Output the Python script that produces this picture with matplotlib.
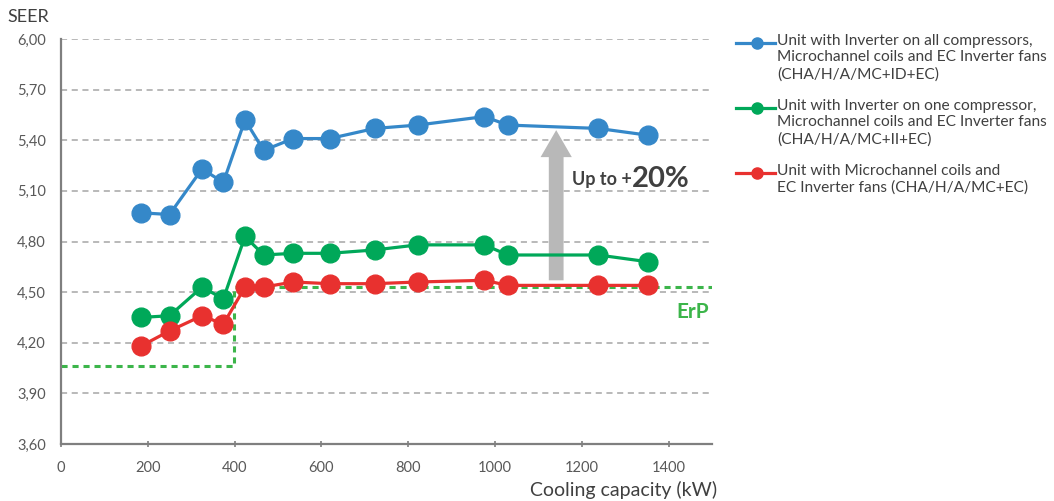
import matplotlib
matplotlib.use("Agg")
import matplotlib.pyplot as plt
from matplotlib.lines import Line2D
from matplotlib.patches import FancyArrow

# values
capacity = [184, 250, 325, 374, 424, 467, 535, 619, 723, 822, 975, 1030, 1238, 1352]
seer_inv_all = [4.97, 4.96, 5.23, 5.15, 5.52, 5.34, 5.41, 5.41, 5.47, 5.49, 5.54, 5.49, 5.47, 5.43]
seer_inv_one = [4.35, 4.36, 4.53, 4.46, 4.83, 4.72, 4.73, 4.73, 4.75, 4.78, 4.78, 4.72, 4.72, 4.68]
seer_mc_ec = [4.18, 4.27, 4.36, 4.31, 4.53, 4.53, 4.56, 4.55, 4.55, 4.56, 4.57, 4.54, 4.54, 4.54]

erp_x = [0, 398, 1500]
erp_y = [4.06, 4.53, 4.53]

y_ticks = [3.60, 3.90, 4.20, 4.50, 4.80, 5.10, 5.40, 5.70, 6.00]
x_ticks = [0, 200, 400, 600, 800, 1000, 1200, 1400]

labels = [
    "Unit with Inverter on all compressors,\nMicrochannel coils and EC Inverter fans\n(CHA/H/A/MC+ID+EC)",
    "Unit with Inverter on one compressor,\nMicrochannel coils and EC Inverter fans\n(CHA/H/A/MC+II+EC)",
    "Unit with Microchannel coils and\nEC Inverter fans (CHA/H/A/MC+EC)",
]
colors = ["#3588c9", "#00a859", "#e8312f"]

plt.rcParams['font.family'] = ['Lato', 'DejaVu Sans']
txt = "#404040"

fig = plt.figure(figsize=(10.54, 5.01), dpi=100)
ax = fig.add_axes([61 / 1054, 1 - 444 / 501, (712 - 61) / 1054, (444 - 39) / 501])

# grid
for yv in y_ticks[1:]:
    ax.axhline(yv, color="#a6a6a6", lw=1.1, ls=(0, (4, 3)), zorder=0)

# ErP limit
ax.plot(erp_x, erp_y, drawstyle="steps-post", color="#3cb54a", lw=2.2,
        ls=(0, (2, 1.6)), zorder=1)

for ys, c in zip([seer_inv_all, seer_inv_one, seer_mc_ec], colors):
    ax.plot(capacity, ys, color=c, lw=2.3, marker="o", markersize=13.5, zorder=3)

# gray arrow
ax.add_patch(FancyArrow(1141, 4.57, 0, 5.46 - 4.57, width=34, head_width=72,
                        head_length=0.16, length_includes_head=True,
                        color="#b8b8b8", lw=0, zorder=2))
t1 = ax.text(1178, 5.17, "Up to +", fontsize=13, fontweight="bold", color=txt,
             ha="left", va="center")
ax.annotate("20%", xy=(1, 0.5), xycoords=t1, xytext=(0, 0), textcoords="offset points",
            fontsize=21, fontweight="bold", color=txt, ha="left", va="center")

ax.text(1494, 4.38, "ErP", fontsize=15, fontweight="bold", color="#3cb54a",
        ha="right", va="center")

ax.set_xlim(0, 1500)
ax.set_ylim(3.60, 6.00)
ax.set_xticks(x_ticks)
ax.set_yticks(y_ticks)
ax.set_yticklabels([f"{v:.2f}".replace(".", ",") for v in y_ticks])
ax.tick_params(axis="y", length=0, pad=11, labelsize=10.5, labelcolor="#595959")
ax.tick_params(axis="x", direction="inout", length=5, width=1.2, color="#7f7f7f",
               pad=10, labelsize=10.5, labelcolor="#595959")
for s in ["top", "right"]:
    ax.spines[s].set_visible(False)
for s in ["left", "bottom"]:
    ax.spines[s].set_color("#7f7f7f")
    ax.spines[s].set_linewidth(1.6)

fig.text(7 / 1054, 1 - 17 / 501, "SEER", fontsize=13, color=txt, ha="left", va="center")
fig.text(717 / 1054, 1 - 490 / 501, "Cooling capacity (kW)", fontsize=14, color=txt,
         ha="right", va="center")

# legend drawn by hand so the marker sits on the first text line
entry_y = [43, 108, 173]
for lab, c, py in zip(labels, colors, entry_y):
    yf = 1 - py / 501
    fig.add_artist(Line2D([736 / 1054, 757 / 1054, 775 / 1054], [yf, yf, yf],
                          transform=fig.transFigure, color=c, lw=2.3,
                          marker="o", markersize=8, markevery=[1]))
    fig.text(777 / 1054, 1 - (py - 9) / 501, lab, fontsize=11.2, color=txt,
             ha="left", va="top", linespacing=1.22)

fig.savefig("out.png", dpi=100)
